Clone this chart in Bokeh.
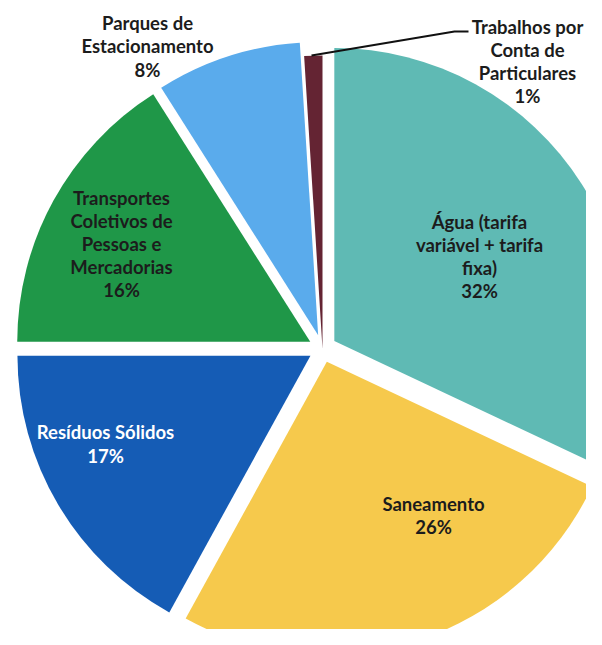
import numpy as np
from bokeh.plotting import figure
from bokeh.models import Range1d, ColumnDataSource
from bokeh.core.properties import value
from bokeh.embed import file_html
from bokeh.resources import INLINE

# ---- data ----
categories = ["Água (tarifa\nvariável + tarifa\nfixa)", "Saneamento", "Resíduos Sólidos",
              "Transportes\nColetivos de\nPessoas e\nMercadorias", "Parques de\nEstacionamento",
              "Trabalhos por\nConta de\nParticulares"]
percents = [32, 26, 17, 16, 8, 1]
colors = ["#5fbab4", "#f6c94c", "#155cb5", "#1f9748", "#5aabec", "#642433"]
explode = [14, 14, 14, 14, 14, 0]
label_colors = ["#1c1c1c", "#1c1c1c", "#ffffff", "#1c1c1c", "#1c1c1c", "#1c1c1c"]

# ---- layout ----
W, H = 586, 629
cx, cy, R = 322.0, -348.0, 293.0
label_x = [479, 433, 105, 121, 147, 527]
label_y = [-256, -515, -443.5, -243.5, -46, -61]

vals = np.array(percents, dtype=float)
frac = vals / vals.sum()
ends = np.cumsum(frac) * 2 * np.pi          # clockwise from 12 o'clock
starts = ends - frac * 2 * np.pi
mid = (starts + ends) / 2
wx = cx + np.array(explode) * np.sin(mid)
wy = cy + np.array(explode) * np.cos(mid)

src = ColumnDataSource(dict(
    x=wx, y=wy,
    start=np.pi / 2 - ends, end=np.pi / 2 - starts,
    color=colors,
))

p = figure(width=W, height=H, x_range=Range1d(0, W), y_range=Range1d(-H, 0),
           toolbar_location=None, output_backend="svg", min_border=0)
p.axis.visible = False
p.grid.visible = False
p.outline_line_color = None
p.background_fill_color = "white"

p.wedge(x="x", y="y", radius=R, start_angle="start", end_angle="end",
        fill_color="color", line_color=None, source=src)

# leader line for the small slice
p.line(x=[311, 454, 468], y=[-55, -31, -31], line_color="#111111", line_width=2)

texts = [f"{c}\n{v}%" for c, v in zip(categories, percents)]
lsrc = ColumnDataSource(dict(x=label_x, y=label_y, t=texts, c=label_colors))
p.text(x="x", y="y", text="t", source=lsrc, text_color="c",
       text_font=value("Lato"), text_font_style="bold", text_font_size="18.5px",
       text_align="center", text_baseline="middle", text_line_height=1.05)

open("out.html", "w").write(file_html(p, INLINE))
